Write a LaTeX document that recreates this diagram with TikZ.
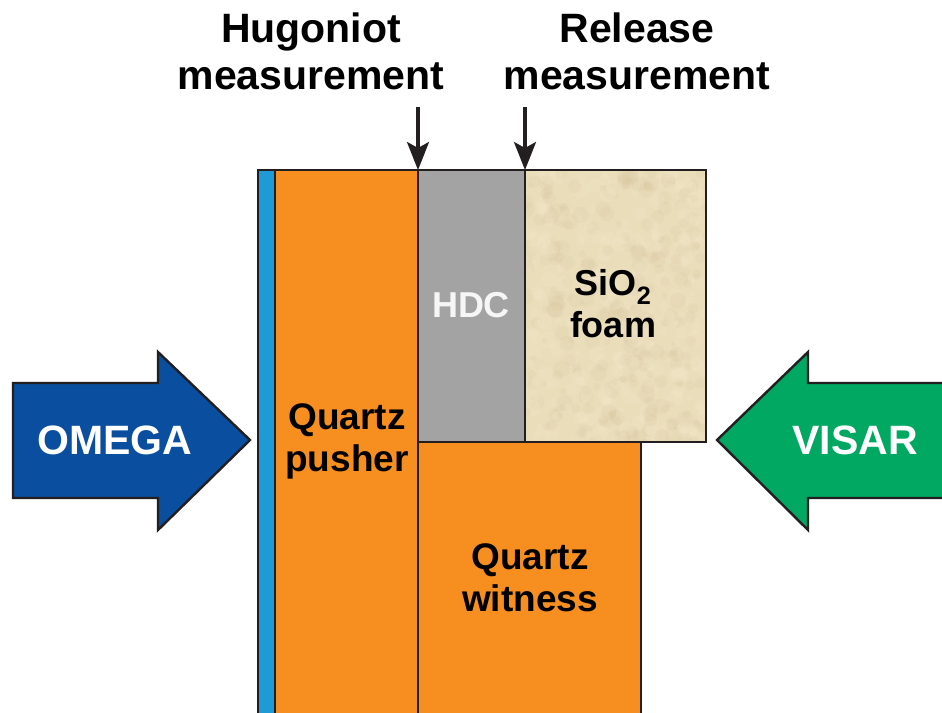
\documentclass[tikz,border=0pt]{standalone}
\usepackage{fontspec}
\setmainfont{Liberation Sans}
\usetikzlibrary{arrows.meta}
\definecolor{outl}{HTML}{231F20}
\definecolor{qorange}{HTML}{F68E20}
\definecolor{ablblue}{HTML}{1E9BD7}
\definecolor{hdcgray}{HTML}{A3A3A3}
\definecolor{foambase}{HTML}{EADDBA}
\definecolor{foamlight}{HTML}{F3E8CC}
\definecolor{foamdark}{HTML}{D9C7A0}
\definecolor{omegablue}{HTML}{0A4F9F}
\definecolor{visargreen}{HTML}{00A862}
\begin{document}
\begin{tikzpicture}[x=1pt,y=-1pt,
  layer/.style={draw=outl,line width=2.4pt,inner sep=0pt,outer sep=0pt,anchor=north west},
  lbl/.style={font=\bfseries\fontsize{37}{42}\selectfont,align=center,text=black},
  toplbl/.style={font=\bfseries\fontsize{41}{47}\selectfont,align=center,text=black},
  beamlbl/.style={font=\bfseries\fontsize{41}{47}\selectfont,text=white},
  beam/.style={draw=outl,line width=2.4pt,line join=miter},
  meas/.style={draw=outl,line width=3.2pt,-{Stealth[length=28pt,width=22pt,inset=6pt]}}]
\clip (0,0) rectangle (942,712);
\fill[white] (0,0) rectangle (942,712);

% target layers
\node[layer,fill=ablblue,minimum width=17pt,minimum height=570pt] (ablator) at (258,170) {};
\node[layer,fill=qorange,minimum width=143pt,minimum height=570pt] (pusher) at (275,170) {};
\node[layer,fill=qorange,minimum width=223pt,minimum height=300pt] (witness) at (418,442) {};
\node[layer,fill=hdcgray,minimum width=107pt,minimum height=272pt] (hdc) at (418,170) {};
\node[layer,fill=foambase,minimum width=181pt,minimum height=272pt] (foam) at (525,170) {};

% soft mottled foam surface
\begin{scope}
  \clip (foam.north west) rectangle (foam.south east);
  \pgfmathsetseed{17}
  \foreach \i in {1,...,520}{
    \pgfmathsetmacro\rx{525+181*rnd}
    \pgfmathsetmacro\ry{170+272*rnd}
    \pgfmathsetmacro\rr{2.5+6*rnd}
    \pgfmathtruncatemacro\rc{mod(\i,2)}
    \ifnum\rc=0
      \fill[foamlight,opacity=0.25] (\rx,\ry) circle (\rr pt);
    \else
      \fill[foamdark,opacity=0.18] (\rx,\ry) circle (\rr pt);
    \fi
  }
\end{scope}
\draw[outl,line width=2.4pt] (foam.north west) rectangle (foam.south east);

% layer labels
\node[lbl] (pusherlbl) at (347,441) {Quartz\\pusher};
\node[lbl,text=white!93!gray,font=\bfseries\fontsize{36}{42}\selectfont] (hdclbl) at (471,305) {HDC};
\node[lbl,font=\bfseries\fontsize{36}{42}\selectfont] (foamlbl) at (613,304) {SiO\textsubscript{2}\\foam};
\node[lbl] (witnesslbl) at (530,578) {Quartz\\witness};

% drive and diagnostic beams
\draw[beam,fill=omegablue] (13,383) -- (158,383) -- (158,352) -- (250,440) -- (158,530) -- (158,498) -- (13,498) -- cycle;
\node[beamlbl] (omega) at (115,440) {OMEGA};
\draw[beam,fill=visargreen] (960,383) -- (808,383) -- (808,352) -- (717,440) -- (808,530) -- (808,498) -- (960,498) -- cycle;
\node[beamlbl] (visar) at (855,440) {VISAR};

% measurement markers
\node[toplbl] (huglbl) at (311,51) {Hugoniot\\measurement};
\node[toplbl] (rellbl) at (637,51) {Release\\measurement};
\coordinate (hugstart) at (418,107);
\coordinate (relstart) at (525,107);
\draw[meas] (hugstart) -- (hdc.north west);
\draw[meas] (relstart) -- (foam.north west);
\end{tikzpicture}
\end{document}
